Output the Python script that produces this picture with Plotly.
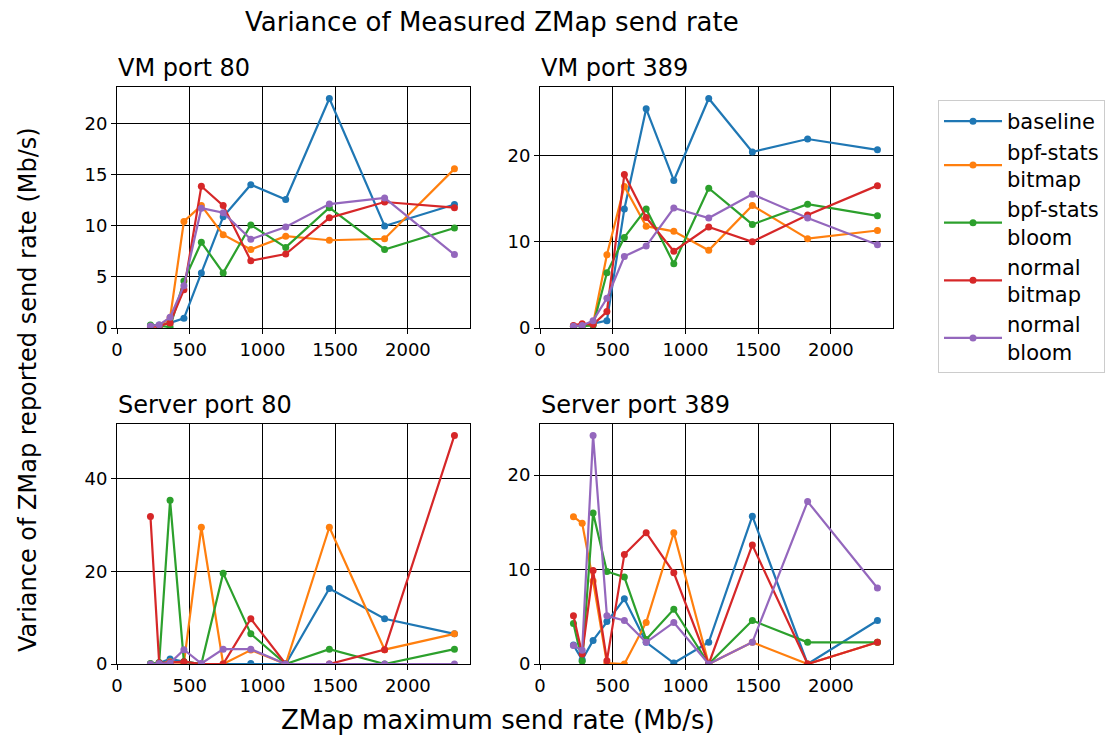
import plotly.graph_objects as go

rates = [230, 290, 365, 460, 580, 730, 920, 1160, 1460, 1840, 2320]
series_names = ["baseline", "bpf-stats<br>bitmap", "bpf-stats<br>bloom", "normal<br>bitmap", "normal<br>bloom"]
colors = ["#1f77b4", "#ff7f0e", "#2ca02c", "#d62728", "#9467bd"]

panel_titles = ["VM port 80", "VM port 389", "Server port 80", "Server port 389"]

vm80_baseline = [0.2, 0.3, 0.5, 0.95, 5.4, 10.9, 14.05, 12.6, 22.5, 10.0, 12.1]
vm80_bpf_bitmap = [0.1, 0.2, 1.0, 10.45, 12.0, 9.15, 7.7, 9.0, 8.6, 8.75, 15.6]
vm80_bpf_bloom = [0.3, 0.2, 0.1, 4.6, 8.4, 5.4, 10.1, 7.9, 11.8, 7.7, 9.8]
vm80_normal_bitmap = [0.1, 0.2, 0.5, 3.75, 13.9, 12.0, 6.6, 7.25, 10.8, 12.35, 11.8]
vm80_normal_bloom = [0.2, 0.3, 1.05, 4.15, 11.75, 11.3, 8.7, 9.9, 12.15, 12.75, 7.2]

vm389_baseline = [0.2, 0.3, 0.5, 0.85, 13.8, 25.4, 17.1, 26.6, 20.4, 21.9, 20.65]
vm389_bpf_bitmap = [0.2, 0.3, 0.5, 8.5, 16.4, 11.8, 11.2, 9.0, 14.2, 10.35, 11.3]
vm389_bpf_bloom = [0.2, 0.2, 0.3, 6.4, 10.5, 13.8, 7.45, 16.2, 12.0, 14.35, 13.0]
vm389_normal_bitmap = [0.3, 0.5, 0.4, 1.9, 17.8, 12.8, 8.9, 11.7, 10.0, 13.1, 16.5]
vm389_normal_bloom = [0.2, 0.3, 0.85, 3.45, 8.3, 9.5, 13.9, 12.75, 15.5, 12.75, 9.65]

srv80_baseline = [0.0, 0.2, 1.1, 0.5, 0.0, 0.0, 0.1, 0.0, 16.3, 9.75, 6.5]
srv80_bpf_bitmap = [0.0, 0.0, 0.5, 0.2, 29.5, 0.0, 3.0, 0.0, 29.5, 3.1, 6.5]
srv80_bpf_bloom = [0.1, 0.3, 35.3, 0.5, 0.0, 19.6, 6.5, 0.0, 3.2, 0.0, 3.2]
srv80_normal_bitmap = [31.8, 0.2, 0.3, 0.5, 0.0, 0.0, 9.75, 0.0, 0.0, 3.1, 49.3]
srv80_normal_bloom = [0.0, 0.1, 0.2, 3.1, 0.1, 3.2, 3.2, 0.0, 0.0, 0.0, 0.0]

srv389_baseline = [2.0, 0.45, 2.5, 4.5, 6.9, 2.3, 0.1, 2.3, 15.65, 0.0, 4.6]
srv389_bpf_bitmap = [15.6, 14.9, 8.8, 0.1, 0.0, 4.4, 13.9, 0.0, 2.3, 0.0, 2.3]
srv389_bpf_bloom = [4.3, 0.3, 16.0, 9.8, 9.2, 2.6, 5.8, 0.0, 4.6, 2.3, 2.3]
srv389_normal_bitmap = [5.1, 1.05, 9.9, 0.35, 11.6, 13.9, 9.65, 0.0, 12.6, 0.0, 2.3]
srv389_normal_bloom = [1.95, 1.45, 24.2, 5.1, 4.6, 2.3, 4.4, 0.0, 2.3, 17.2, 8.05]

panels = [
    [vm80_baseline, vm80_bpf_bitmap, vm80_bpf_bloom, vm80_normal_bitmap, vm80_normal_bloom],
    [vm389_baseline, vm389_bpf_bitmap, vm389_bpf_bloom, vm389_normal_bitmap, vm389_normal_bloom],
    [srv80_baseline, srv80_bpf_bitmap, srv80_bpf_bloom, srv80_normal_bitmap, srv80_normal_bloom],
    [srv389_baseline, srv389_bpf_bitmap, srv389_bpf_bloom, srv389_normal_bitmap, srv389_normal_bloom],
]
x_ticks = [0, 500, 1000, 1500, 2000]
y_ticks = [[0, 5, 10, 15, 20], [0, 10, 20], [0, 20, 40], [0, 10, 20]]

W, H = 1108, 740
FONT = "DejaVu Sans"

def px(v):
    return v / W

def py(v):
    return 1 - v / H

# pixel boxes: (left, right, top, bottom)
boxes = [(117, 470, 87, 328), (540, 893, 87, 328), (117, 470, 424, 664), (540, 893, 424, 664)]

fig = go.Figure()
layout = dict(
    width=W, height=H, margin=dict(l=0, r=0, t=0, b=0, autoexpand=False),
    paper_bgcolor="white", plot_bgcolor="white",
    font=dict(family=FONT, size=18, color="black"),
    showlegend=True,
)
annotations = []
for i, (data, box) in enumerate(zip(panels, boxes)):
    l, r, t, b = box
    xa = "xaxis" if i == 0 else f"xaxis{i+1}"
    ya = "yaxis" if i == 0 else f"yaxis{i+1}"
    xref = "x" if i == 0 else f"x{i+1}"
    yref = "y" if i == 0 else f"y{i+1}"
    ymax = max(max(s) for s in data) * 1.05
    common = dict(showline=True, linecolor="black", linewidth=1, mirror=True,
                  ticks="outside", ticklen=5, tickwidth=1, tickcolor="black",
                  showgrid=True, gridcolor="black", gridwidth=1, zeroline=False,
                  automargin=False,
                  tickfont=dict(family=FONT, size=18, color="black"))
    layout[xa] = dict(domain=[px(l), px(r)], anchor=yref, range=[0, 2427],
                      tickvals=x_ticks, **common)
    layout[ya] = dict(domain=[py(b), py(t)], anchor=xref, range=[0, ymax],
                      tickvals=y_ticks[i], **common)
    for j, s in enumerate(data):
        fig.add_trace(go.Scatter(
            x=rates, y=s, mode="lines+markers", name=series_names[j],
            line=dict(color=colors[j], width=2.2),
            marker=dict(color=colors[j], size=7),
            xaxis=xref, yaxis=yref, showlegend=(i == 0), legendgroup=str(j),
        ))
    annotations.append(dict(text=panel_titles[i], x=px(l - 1), y=py(t - 3), xref="paper", yref="paper",
                            xanchor="left", yanchor="bottom", showarrow=False,
                            font=dict(family=FONT, size=24, color="black")))

annotations.append(dict(text="Variance of Measured ZMap send rate", x=px(492), y=py(22), xref="paper",
                        yref="paper", xanchor="center", yanchor="middle", showarrow=False,
                        font=dict(family=FONT, size=26, color="black")))
annotations.append(dict(text="ZMap maximum send rate (Mb/s)", x=px(498), y=py(720), xref="paper",
                        yref="paper", xanchor="center", yanchor="middle", showarrow=False,
                        font=dict(family=FONT, size=26, color="black")))
annotations.append(dict(text="Variance of ZMap reported send rate (Mb/s)", x=px(28), y=py(390),
                        xref="paper", yref="paper", xanchor="center", yanchor="middle",
                        textangle=-90, showarrow=False,
                        font=dict(family=FONT, size=24, color="black")))
layout["annotations"] = annotations
layout["legend"] = dict(x=px(938), y=py(100), xanchor="left", yanchor="top",
                        bordercolor="#cccccc", borderwidth=1, bgcolor="white",
                        font=dict(family=FONT, size=21, color="black"),
                        tracegroupgap=0, itemwidth=58)
fig.update_layout(**layout)
fig.write_html("out.html", config={"displayModeBar": False},
               post_script="document.body.style.margin='0';document.body.style.overflow='hidden';")
